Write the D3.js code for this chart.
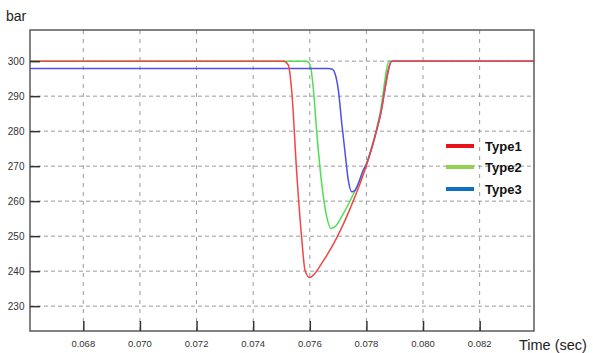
<!DOCTYPE html>
<html>
<head>
<meta charset="utf-8">
<script src="https://cdn.jsdelivr.net/npm/d3@7"></script>
<style>
  html, body { margin: 0; padding: 0; background: #fff; }
  svg { display: block; font-family: "Liberation Sans", Arial, sans-serif; }
</style>
</head>
<body>
<svg id="chart" width="593" height="353"></svg>
<script>
// Pressure traces (bar) against time (sec)
const xTicks = [0.068, 0.070, 0.072, 0.074, 0.076, 0.078, 0.080, 0.082];
const yTicks = [230, 240, 250, 260, 270, 280, 290, 300];
const seriesNames = ["Type1", "Type2", "Type3"];

const type1Time = [0.0660, 0.07490, 0.07507, 0.07524, 0.07536, 0.07554, 0.07572, 0.07583, 0.07599, 0.07613, 0.07642, 0.07695, 0.07742, 0.07801, 0.07848, 0.07890, 0.0840];
const type1Bar  = [300,    300,     300,     298.9,   291.7,   267.9,   248.9,   240.3,   238.2,   238.9,   242.2,   249.5,   257.8,   270.5,   284.0,   300,     300];

const type2Time = [0.0660, 0.07580, 0.07592, 0.07603, 0.07613, 0.07625, 0.07642, 0.07660, 0.07674, 0.07689, 0.07719, 0.07766, 0.07801, 0.07848, 0.07881, 0.0840];
const type2Bar  = [300,    300,     299.9,   298.3,   291.7,   279.3,   265.1,   255.5,   252.2,   252.7,   256.5,   264.1,   270.8,   285.0,   300,     300];

const type3Time = [0.0660, 0.07665, 0.07680, 0.07689, 0.07701, 0.07713, 0.07725, 0.07736, 0.07748, 0.07760, 0.07789, 0.07801, 0.07848, 0.07890, 0.0840];
const type3Bar  = [297.9,  297.9,   297.7,   296.5,   291.7,   282.2,   273.6,   266.0,   262.7,   263.1,   268.9,   270.8,   284.1,   300,     300];

const lineColors = ["#f24646", "#4fe04f", "#4f4ff0"];
const legendColors = ["#e8141c", "#92d050", "#0e70c0"];

const svg = d3.select("#chart");
const plot = { left: 30, top: 30, right: 534, bottom: 331 };

const x = d3.scaleLinear().domain([0.066117, 0.08392]).range([plot.left, plot.right]);
const y = d3.scaleLinear().domain([222.9, 308.9]).range([plot.bottom, plot.top]);

// grid
const grid = svg.append("g");
grid.selectAll("line.h").data(yTicks).join("line")
  .attr("x1", plot.left).attr("x2", plot.right)
  .attr("y1", d => y(d)).attr("y2", d => y(d))
  .attr("stroke", "#9a9a9a").attr("stroke-width", 1).attr("stroke-dasharray", "4,3");
grid.selectAll("line.v").data(xTicks).join("line")
  .attr("x1", d => x(d)).attr("x2", d => x(d))
  .attr("y1", plot.top).attr("y2", plot.bottom)
  .attr("stroke", "#9a9a9a").attr("stroke-width", 1).attr("stroke-dasharray", "4,5");

// clip for traces
svg.append("clipPath").attr("id", "clip").append("rect")
  .attr("x", plot.left).attr("y", plot.top)
  .attr("width", plot.right - plot.left).attr("height", plot.bottom - plot.top);

const line = d3.line().x(d => x(d[0])).y(d => y(d[1])).curve(d3.curveMonotoneX);
const series = [
  d3.zip(type1Time, type1Bar),
  d3.zip(type2Time, type2Bar),
  d3.zip(type3Time, type3Bar)
];
// draw order: Type2, Type3, Type1 on top
const order = [1, 2, 0];
svg.append("g").attr("clip-path", "url(#clip)")
  .selectAll("path").data(order).join("path")
  .attr("d", i => line(series[i]))
  .attr("fill", "none")
  .attr("stroke", i => lineColors[i])
  .attr("stroke-width", 1.5);

// frame
svg.append("rect")
  .attr("x", plot.left).attr("y", plot.top)
  .attr("width", plot.right - plot.left).attr("height", plot.bottom - plot.top)
  .attr("fill", "none").attr("stroke", "#5a5a5a").attr("stroke-width", 1.5);

// axes: inward ticks
const xAxis = d3.axisTop(x).tickValues(xTicks).tickSize(10).tickFormat("");
svg.append("g").attr("transform", `translate(0,${plot.bottom})`).call(xAxis)
  .call(g => g.select(".domain").remove())
  .call(g => g.selectAll("line").attr("stroke", "#333").attr("stroke-width", 1.5));
const yAxis = d3.axisRight(y).tickValues(yTicks).tickSize(10).tickFormat("");
svg.append("g").attr("transform", `translate(${plot.left},0)`).call(yAxis)
  .call(g => g.select(".domain").remove())
  .call(g => g.selectAll("line").attr("stroke", "#333").attr("stroke-width", 1.5));

// tick labels
svg.append("g").selectAll("text").data(xTicks).join("text")
  .attr("x", d => x(d)).attr("y", 347)
  .attr("text-anchor", "middle").attr("font-size", 9.5).attr("fill", "#333")
  .text(d => d3.format(".3f")(d));
svg.append("g").selectAll("text").data(yTicks).join("text")
  .attr("x", 24.5).attr("y", d => y(d) + 3.5)
  .attr("text-anchor", "end").attr("font-size", 10).attr("fill", "#333")
  .text(d => d);

// axis titles
svg.append("text").attr("x", 6).attr("y", 21).attr("font-size", 14).attr("fill", "#222").text("bar");
svg.append("text").attr("x", 519).attr("y", 350).attr("font-size", 14.5).attr("fill", "#222").text("Time (sec)");

// legend
const legendY = [146, 167, 189];
const legend = svg.append("g");
seriesNames.forEach((name, i) => {
  legend.append("line")
    .attr("x1", 446).attr("x2", 474).attr("y1", legendY[i]).attr("y2", legendY[i])
    .attr("stroke", legendColors[i]).attr("stroke-width", 4);
  legend.append("text")
    .attr("x", 485).attr("y", legendY[i] + 4.5)
    .attr("font-size", 13).attr("font-weight", "bold").attr("fill", "#111")
    .text(name);
});
</script>
</body>
</html>
